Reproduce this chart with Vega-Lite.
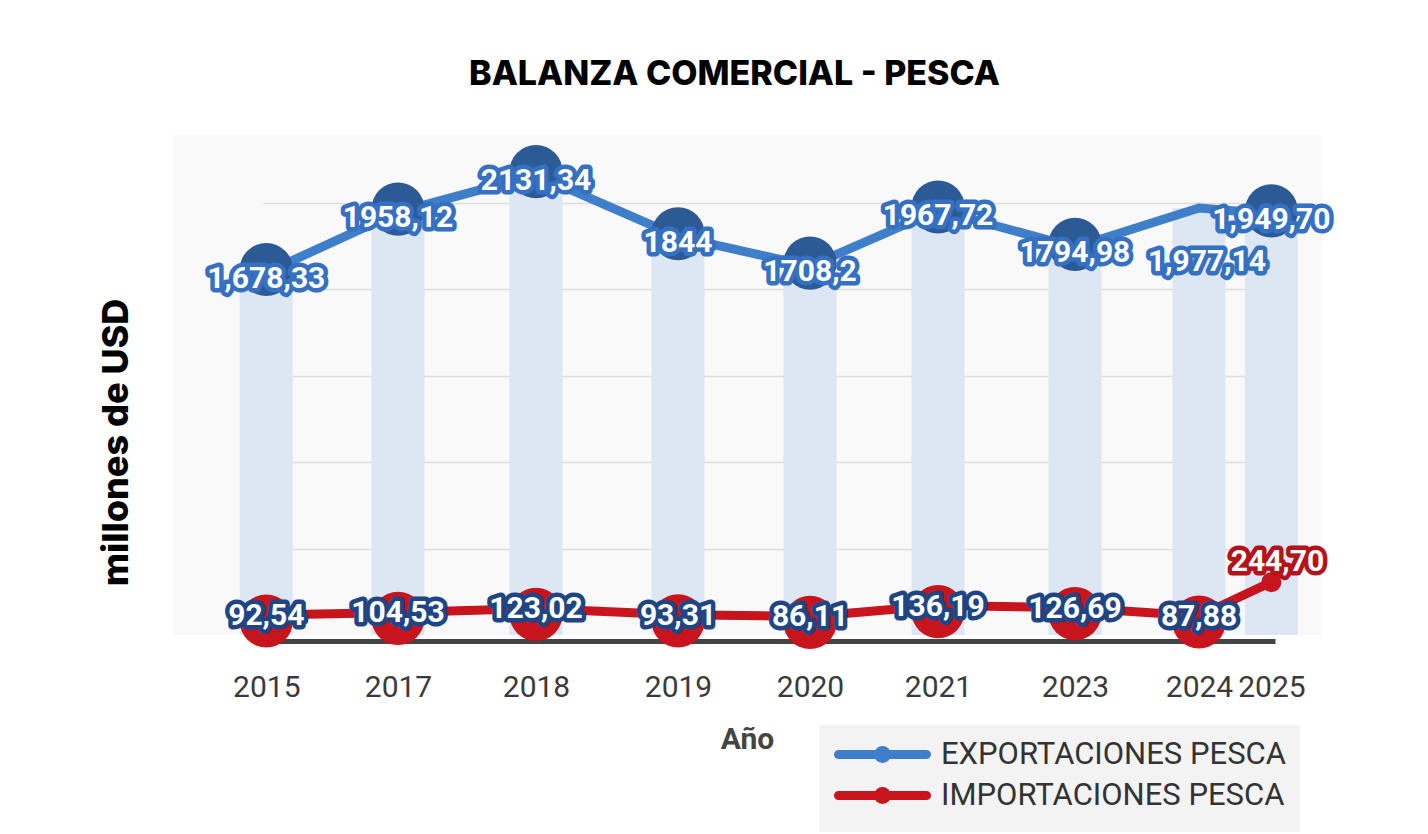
{
  "$schema": "https://vega.github.io/schema/vega-lite/v6.json",
  "width": 1149,
  "height": 500,
  "autosize": {"type": "none"},
  "padding": {"left": 173, "top": 135, "right": 106, "bottom": 199},
  "background": "white",
  "config": {"view": {"stroke": null, "fill": "#f9f9fa"}, "font": "Roboto"},
  "title": {"text": "BALANZA COMERCIAL - PESCA", "font": "Inter", "fontSize": 34, "fontWeight": 800, "color": "#000000", "anchor": "middle", "dx": -13, "offset": 43},
  "data": {"values": [
    {"anio": 2015, "serie": "EXPORTACIONES PESCA", "valor": 1678.33, "etiqueta": "1,678,33"},
    {"anio": 2017, "serie": "EXPORTACIONES PESCA", "valor": 1958.12, "etiqueta": "1958,12"},
    {"anio": 2018, "serie": "EXPORTACIONES PESCA", "valor": 2131.34, "etiqueta": "2131,34"},
    {"anio": 2019, "serie": "EXPORTACIONES PESCA", "valor": 1844, "etiqueta": "1844"},
    {"anio": 2020, "serie": "EXPORTACIONES PESCA", "valor": 1708.2, "etiqueta": "1708,2"},
    {"anio": 2021, "serie": "EXPORTACIONES PESCA", "valor": 1967.72, "etiqueta": "1967,72"},
    {"anio": 2023, "serie": "EXPORTACIONES PESCA", "valor": 1794.98, "etiqueta": "1794,98"},
    {"anio": 2024, "serie": "EXPORTACIONES PESCA", "valor": 1977.14, "etiqueta": "1,977,14"},
    {"anio": 2025, "serie": "EXPORTACIONES PESCA", "valor": 1949.7, "etiqueta": "1,949,70"},
    {"anio": 2015, "serie": "IMPORTACIONES PESCA", "valor": 92.54, "etiqueta": "92,54"},
    {"anio": 2017, "serie": "IMPORTACIONES PESCA", "valor": 104.53, "etiqueta": "104,53"},
    {"anio": 2018, "serie": "IMPORTACIONES PESCA", "valor": 123.02, "etiqueta": "123,02"},
    {"anio": 2019, "serie": "IMPORTACIONES PESCA", "valor": 93.31, "etiqueta": "93,31"},
    {"anio": 2020, "serie": "IMPORTACIONES PESCA", "valor": 86.11, "etiqueta": "86,11"},
    {"anio": 2021, "serie": "IMPORTACIONES PESCA", "valor": 136.19, "etiqueta": "136,19"},
    {"anio": 2023, "serie": "IMPORTACIONES PESCA", "valor": 126.69, "etiqueta": "126,69"},
    {"anio": 2024, "serie": "IMPORTACIONES PESCA", "valor": 87.88, "etiqueta": "87,88"},
    {"anio": 2025, "serie": "IMPORTACIONES PESCA", "valor": 244.7, "etiqueta": "244,70"}
  ]},
  "encoding": {
    "x": {
      "field": "anio", "type": "quantitative",
      "scale": {"domain": [2015, 2017, 2018, 2019, 2020, 2021, 2023, 2024, 2025], "range": [90, 225, 363, 505, 637, 765, 902, 1026, 1102], "zero": false, "nice": false},
      "axis": {"values": [2015, 2017, 2018, 2019, 2020, 2021, 2023, 2024, 2025], "format": "d", "title": "Año", "grid": false, "ticks": false, "domainColor": "#444444", "domainWidth": 5, "offset": 6, "labelFont": "Roboto", "labelFontSize": 30, "labelColor": "#3a3a3a", "labelPadding": 31, "labelOverlap": false, "titleFont": "Roboto", "titleFontSize": 30, "titleFontWeight": "bold", "titleColor": "#444444", "titlePadding": 22, "titleX": 574, "titleAlign": "center"}
    },
    "y": {
      "field": "valor", "type": "quantitative",
      "scale": {"domain": [0, 2315], "nice": false, "zero": true},
      "axis": {"title": "millones de USD", "values": [400, 800, 1200, 1600, 2000], "labels": false, "ticks": false, "domain": false, "grid": true, "gridColor": "#dddddd", "gridWidth": 1.5, "titleFont": "Inter", "titleFontSize": 36, "titleFontWeight": 800, "titleColor": "#000000", "titleX": -57, "titleY": 307, "titleAngle": -90, "titleAlign": "center", "titleBaseline": "middle"}
    }
  },
  "layer": [
    {
      "transform": [{"filter": "datum.serie === 'EXPORTACIONES PESCA'"}],
      "mark": {"type": "bar", "width": 53, "color": "#dde7f3"}
    },
    {
      "mark": {"type": "line", "strokeWidth": 9, "strokeCap": "round", "strokeJoin": "round"},
      "encoding": {
        "color": {
          "field": "serie", "type": "nominal",
          "scale": {"domain": ["EXPORTACIONES PESCA", "IMPORTACIONES PESCA"], "range": ["#3f7ec9", "#c8141c"]},
          "legend": {
            "orient": "none", "legendX": 646, "legendY": 590, "title": null,
            "fillColor": "#f3f3f3", "padding": 14,
            "labelFont": "Roboto", "labelFontSize": 31, "labelColor": "#333333", "labelOffset": 77, "labelLimit": 0,
            "symbolType": "M-1,0L7.8,0M3,0A0.4,0.4 0 1,0 3.8,0A0.4,0.4 0 1,0 3,0Z",
            "symbolSize": 400, "symbolStrokeWidth": 9, "rowPadding": -4,
            "encode": {"symbols": {"update": {"fill": {"signal": "datum.value === 'EXPORTACIONES PESCA' ? '#1f3f73' : '#c8141c'"}, "stroke": {"signal": "datum.value === 'EXPORTACIONES PESCA' ? '#2f62ad' : '#c8141c'"}, "strokeCap": {"value": "round"}, "opacity": {"value": 1}}}}
          }
        }
      }
    },
    {
      "transform": [{"filter": "datum.serie === 'EXPORTACIONES PESCA' && datum.anio !== 2024"}],
      "mark": {"type": "point", "filled": true, "opacity": 1, "size": 2830, "color": "#2c5a95", "yOffset": -3}
    },
    {
      "transform": [{"filter": "datum.serie === 'IMPORTACIONES PESCA' && datum.anio !== 2025"}],
      "mark": {"type": "point", "filled": true, "opacity": 1, "size": 2830, "color": "#c8141c", "yOffset": 6}
    },
    {
      "transform": [{"filter": "datum.serie === 'IMPORTACIONES PESCA' && datum.anio === 2025"}],
      "mark": {"type": "point", "filled": true, "opacity": 1, "size": 400, "color": "#c8141c"}
    },
    {
      "transform": [{"filter": "datum.serie === 'EXPORTACIONES PESCA' && datum.anio !== 2024"}],
      "mark": {"type": "text", "font": "Roboto", "fontSize": 30, "fontWeight": "bold", "dy": 6, "fill": "#3570c2", "stroke": "#3570c2", "strokeWidth": 9, "strokeJoin": "round"},
      "encoding": {"text": {"field": "etiqueta"}}
    },
    {
      "transform": [{"filter": "datum.serie === 'EXPORTACIONES PESCA' && datum.anio !== 2024"}],
      "mark": {"type": "text", "font": "Roboto", "fontSize": 30, "fontWeight": "bold", "dy": 6, "color": "#ffffff"},
      "encoding": {"text": {"field": "etiqueta"}}
    },
    {
      "transform": [{"filter": "datum.serie === 'EXPORTACIONES PESCA' && datum.anio === 2024"}],
      "mark": {"type": "text", "font": "Roboto", "fontSize": 30, "fontWeight": "bold", "dy": 54, "dx": 8, "fill": "#3570c2", "stroke": "#3570c2", "strokeWidth": 9, "strokeJoin": "round"},
      "encoding": {"text": {"field": "etiqueta"}}
    },
    {
      "transform": [{"filter": "datum.serie === 'EXPORTACIONES PESCA' && datum.anio === 2024"}],
      "mark": {"type": "text", "font": "Roboto", "fontSize": 30, "fontWeight": "bold", "dy": 54, "dx": 8, "color": "#ffffff"},
      "encoding": {"text": {"field": "etiqueta"}}
    },
    {
      "transform": [{"filter": "datum.serie === 'IMPORTACIONES PESCA' && datum.anio !== 2025"}],
      "mark": {"type": "text", "font": "Roboto", "fontSize": 30, "fontWeight": "bold", "dy": 1, "fill": "#1f4585", "stroke": "#1f4585", "strokeWidth": 9, "strokeJoin": "round"},
      "encoding": {"text": {"field": "etiqueta"}}
    },
    {
      "transform": [{"filter": "datum.serie === 'IMPORTACIONES PESCA' && datum.anio !== 2025"}],
      "mark": {"type": "text", "font": "Roboto", "fontSize": 30, "fontWeight": "bold", "dy": 1, "color": "#ffffff"},
      "encoding": {"text": {"field": "etiqueta"}}
    },
    {
      "transform": [{"filter": "datum.serie === 'IMPORTACIONES PESCA' && datum.anio === 2025"}],
      "mark": {"type": "text", "font": "Roboto", "fontSize": 30, "fontWeight": "bold", "dy": -20, "dx": 6, "fill": "#b5121b", "stroke": "#b5121b", "strokeWidth": 9, "strokeJoin": "round"},
      "encoding": {"text": {"field": "etiqueta"}}
    },
    {
      "transform": [{"filter": "datum.serie === 'IMPORTACIONES PESCA' && datum.anio === 2025"}],
      "mark": {"type": "text", "font": "Roboto", "fontSize": 30, "fontWeight": "bold", "dy": -20, "dx": 6, "color": "#ffffff"},
      "encoding": {"text": {"field": "etiqueta"}}
    }
  ]
}
